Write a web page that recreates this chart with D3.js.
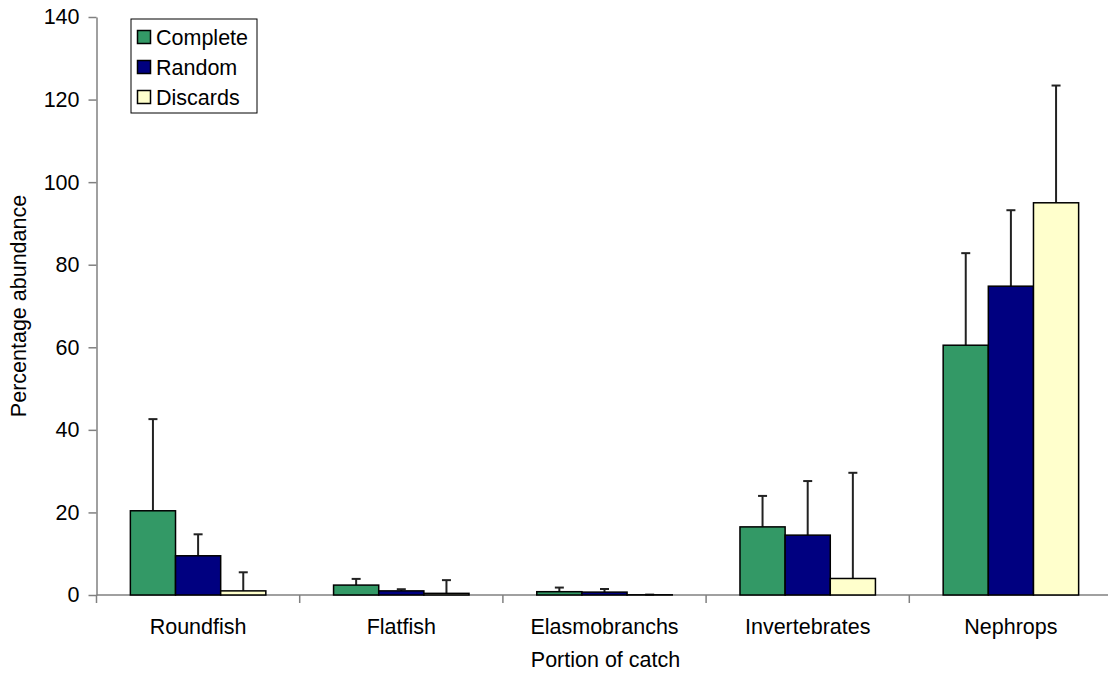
<!DOCTYPE html>
<html>
<head>
<meta charset="utf-8">
<script src="https://cdn.jsdelivr.net/npm/d3@7"></script>
<style>
  html, body { margin: 0; padding: 0; background: #fff; }
  svg { display: block; font-family: "Liberation Sans", Arial, sans-serif; }
</style>
</head>
<body>
<svg id="chart" width="1108" height="677"></svg>
<script>
const categories = ["Roundfish", "Flatfish", "Elasmobranchs", "Invertebrates", "Nephrops"];
const seriesNames = ["Complete", "Random", "Discards"];
const completeVals = [20.4, 2.4, 0.8, 16.5, 60.5];
const randomVals   = [9.5, 1.0, 0.7, 14.5, 74.8];
const discardsVals = [1.0, 0.4, 0.05, 4.0, 95.0];
const completeErr  = [22.2, 1.5, 1.0, 7.5, 22.3];
const randomErr    = [5.2, 0.4, 0.75, 13.1, 18.4];
const discardsErr  = [4.5, 3.2, 0.05, 25.6, 28.4];
const yTicks = [0, 20, 40, 60, 80, 100, 120, 140];
const colors = ["#339966", "#000080", "#FFFFCC"];

(function () {
const values = [completeVals, randomVals, discardsVals];
const errs = [completeErr, randomErr, discardsErr];

const svg = d3.select("#chart");
const mLeft = 96.5, mRight = 1112.5, mTop = 17, mBottom = 595;
const fontSize = 21.5;

const x0 = d3.scaleBand().domain(categories).range([mLeft, mRight]).paddingInner(1/3).paddingOuter(1/6);
const x1 = d3.scaleBand().domain(seriesNames).range([0, x0.bandwidth()]);
const y = d3.scaleLinear().domain([0, 140]).range([mBottom, mTop]);

// Y axis
const yAxis = d3.axisLeft(y).tickValues(yTicks).tickSize(8).tickPadding(9).tickSizeOuter(0);
const gy = svg.append("g").attr("transform", `translate(${mLeft},0)`).call(yAxis);
gy.select(".domain").attr("stroke", "#808080").attr("stroke-width", 1.5);
gy.selectAll(".tick line").attr("stroke", "#808080").attr("stroke-width", 1.5);
gy.selectAll(".tick text").attr("font-size", fontSize).attr("fill", "#000")
  .style("font-family", "Liberation Sans, Arial, sans-serif");

// X axis (category boundary ticks)
const xLine = svg.append("g");
xLine.append("line").attr("x1", mLeft).attr("x2", mRight).attr("y1", mBottom).attr("y2", mBottom)
  .attr("stroke", "#808080").attr("stroke-width", 1.5);
const step = x0.step();
const boundaries = d3.range(categories.length + 1).map(i => mLeft + i * step);
xLine.selectAll("line.tk").data(boundaries).join("line").attr("class", "tk")
  .attr("x1", d => d).attr("x2", d => d).attr("y1", mBottom).attr("y2", mBottom + 8)
  .attr("stroke", "#808080").attr("stroke-width", 1.5);
svg.append("g").selectAll("text").data(categories).join("text")
  .attr("x", d => x0(d) + x0.bandwidth() / 2)
  .attr("y", 634)
  .attr("text-anchor", "middle")
  .attr("font-size", fontSize)
  .text(d => d);

const flat = [];
categories.forEach((c, ci) => {
  seriesNames.forEach((s, si) => {
    flat.push({ c, s, si, v: values[si][ci], e: errs[si][ci] });
  });
});

// Error bars (upper only)
const eg = svg.append("g");
flat.forEach(d => {
  const cx = x0(d.c) + x1(d.s) + x1.bandwidth() / 2;
  const yTop = y(d.v + d.e);
  eg.append("line").attr("x1", cx).attr("x2", cx).attr("y1", y(d.v)).attr("y2", yTop)
    .attr("stroke", "#222").attr("stroke-width", 2);
  eg.append("line").attr("x1", cx - 4.5).attr("x2", cx + 4.5).attr("y1", yTop).attr("y2", yTop)
    .attr("stroke", "#222").attr("stroke-width", 2);
});

svg.append("g").selectAll("rect").data(flat).join("rect")
  .attr("x", d => x0(d.c) + x1(d.s))
  .attr("y", d => y(d.v))
  .attr("width", x1.bandwidth())
  .attr("height", d => mBottom - y(d.v))
  .attr("fill", d => colors[d.si])
  .attr("stroke", "#000")
  .attr("stroke-width", 1.5);

// Axis titles
svg.append("text").attr("x", (mLeft + mRight) / 2 + 1).attr("y", 667)
  .attr("text-anchor", "middle").attr("font-size", fontSize).text("Portion of catch");
svg.append("text").attr("transform", `translate(26,${(mTop + mBottom) / 2}) rotate(-90)`)
  .attr("text-anchor", "middle").attr("font-size", fontSize).text("Percentage abundance");

// Legend
const lg = svg.append("g");
lg.append("rect").attr("x", 131).attr("y", 19).attr("width", 126).attr("height", 94)
  .attr("fill", "#fff").attr("stroke", "#000").attr("stroke-width", 1);
seriesNames.forEach((s, i) => {
  const cy = 37 + i * 30;
  lg.append("rect").attr("x", 137.5).attr("y", cy - 6.5).attr("width", 13).attr("height", 13)
    .attr("fill", colors[i]).attr("stroke", "#000").attr("stroke-width", 1.5);
  lg.append("text").attr("x", 156).attr("y", cy + 7.5).attr("font-size", fontSize).text(s);
});
})();
</script>
</body>
</html>
